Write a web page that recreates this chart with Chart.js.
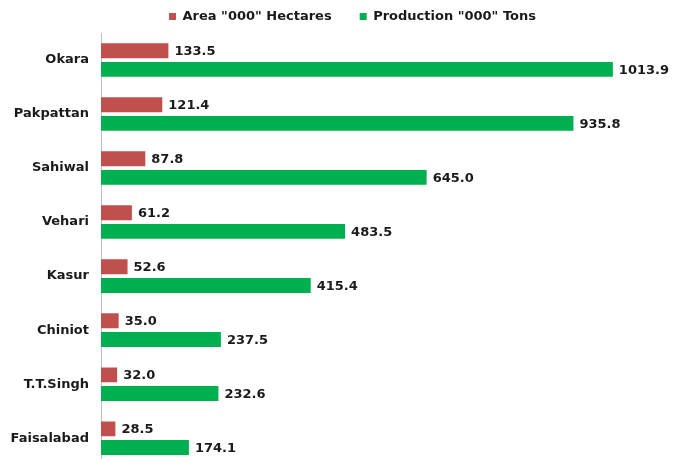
<!DOCTYPE html>
<html>
<head>
<meta charset="utf-8">
<script src="https://cdn.jsdelivr.net/npm/chart.js@4.4.1/dist/chart.umd.min.js"></script>
<style>
  html, body { margin: 0; padding: 0; background: #fff; overflow: hidden; }
  canvas { display: block; }
</style>
</head>
<body>
<canvas id="chart" width="673" height="485"></canvas>
<script>
const districts = ["Okara", "Pakpattan", "Sahiwal", "Vehari", "Kasur", "Chiniot", "T.T.Singh", "Faisalabad"];
const areaHectares = [133.5, 121.4, 87.8, 61.2, 52.6, 35.0, 32.0, 28.5];
const productionTons = [1013.9, 935.8, 645.0, 483.5, 415.4, 237.5, 232.6, 174.1];
const seriesNames = ['Area "000" Hectares', 'Production "000" Tons'];

Chart.defaults.font.family = "'DejaVu Sans', Verdana, sans-serif";
Chart.defaults.color = "#1a1a1a";

// value labels at the end of each bar
const valueLabels = {
  id: "valueLabels",
  afterDatasetsDraw(chart) {
    const ctx = chart.ctx;
    ctx.save();
    ctx.font = "bold 13px 'DejaVu Sans', Verdana, sans-serif";
    ctx.fillStyle = "#1a1a1a";
    ctx.textAlign = "left";
    ctx.textBaseline = "middle";
    chart.data.datasets.forEach((ds, i) => {
      const meta = chart.getDatasetMeta(i);
      meta.data.forEach((bar, j) => {
        ctx.fillText(ds.data[j].toFixed(1), bar.x + 6, bar.y + 1);
      });
    });
    ctx.restore();
  }
};

// legend sits a little right of the canvas centre
const legendShift = {
  id: "legendShift",
  afterLayout(chart) {
    chart.legend.left += 16;
    chart.legend.right += 16;
  }
};

new Chart(document.getElementById("chart"), {
  type: "bar",
  data: {
    labels: districts,
    datasets: [
      {
        label: seriesNames[0],
        data: areaHectares,
        backgroundColor: "#C0504D",
        barPercentage: 0.8,
        categoryPercentage: 0.69
      },
      {
        label: seriesNames[1],
        data: productionTons,
        backgroundColor: "#00B050",
        barPercentage: 0.8,
        categoryPercentage: 0.69
      }
    ]
  },
  options: {
    indexAxis: "y",
    responsive: false,
    animation: false,
    layout: {
      padding: { top: -18, left: 0, right: 0, bottom: 0 }
    },
    scales: {
      x: {
        display: false,
        min: 0,
        max: 1133
      },
      y: {
        afterFit(scale) {
          scale.width = 101;
        },
        grid: { display: false, drawTicks: false },
        border: { display: true, color: "#bfbfbf", width: 1 },
        ticks: {
          padding: 12,
          color: "#1a1a1a",
          font: { size: 13, weight: "bold" }
        }
      }
    },
    plugins: {
      legend: {
        position: "top",
        labels: {
          boxWidth: 7,
          boxHeight: 7,
          padding: 28,
          color: "#1a1a1a",
          font: { size: 13, weight: "bold" }
        }
      },
      tooltip: { enabled: false }
    }
  },
  plugins: [valueLabels, legendShift]
});
</script>
</body>
</html>
